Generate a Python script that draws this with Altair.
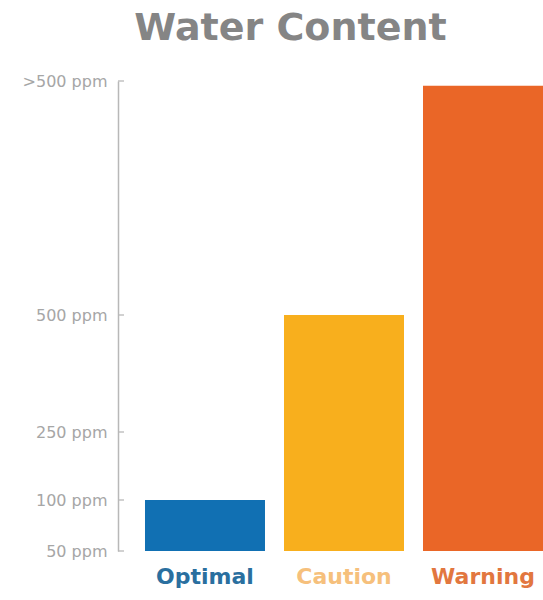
import altair as alt
import pandas as pd

# Categories and their water content (ppm); the top tick stands for ">500 ppm"
categories = ["Optimal", "Caution", "Warning"]
ppm_values = [100, 500, 990]
bar_colors = ["#1170b3", "#f8af1d", "#ea6627"]
label_colors = ["#2a6f9f", "#f6c07c", "#e2773f"]

tick_values = [50, 100, 250, 500, 1000]
tick_labels = ["50 ppm", "100 ppm", "250 ppm", "500 ppm", ">500 ppm"]

bars = pd.DataFrame({"category": categories, "ppm": ppm_values})
ticks = pd.DataFrame({"ppm": tick_values})

# Hand-spaced, non-linear water scale (piecewise)
y_scale = alt.Scale(domain=tick_values, range=[470, 419, 351, 234, 0], clamp=True)

label_expr = " : ".join(
    f"datum.value == {v} ? '{t}'" for v, t in zip(tick_values, tick_labels)
) + " : ''"
color_expr = " : ".join(
    f"datum.value == '{c}' ? '{col}'" for c, col in zip(categories, label_colors)
) + " : '#888'"

x_enc = alt.X(
    "category:N",
    sort=categories,
    scale=alt.Scale(paddingInner=0.1367, paddingOuter=0.0971, align=1),
    axis=alt.Axis(
        title=None,
        domain=False,
        ticks=False,
        labelAngle=0,
        labelFont="DejaVu Sans",
        labelFontWeight="bold",
        labelFontSize=22,
        labelPadding=15,
        labelColor={"expr": color_expr},
    ),
)

bar_layer = alt.Chart(bars).mark_bar().encode(
    x=x_enc,
    y=alt.Y(
        "ppm:Q",
        scale=y_scale,
        axis=alt.Axis(
            title=None,
            values=tick_values,
            labelExpr=label_expr,
            grid=False,
            ticks=False,
            domainColor="#b8b8b8",
            domainWidth=1.5,
            labelColor="#a6a6a6",
            labelFont="DejaVu Sans",
            labelFontSize=16,
            labelPadding=11,
        ),
    ),
    y2=alt.datum(50),
    color=alt.Color("category:N", scale=alt.Scale(domain=categories, range=bar_colors), legend=None),
)

# Short inward tick marks on the value axis
tick_layer = alt.Chart(ticks).mark_rule(color="#b8b8b8", strokeWidth=1.3).encode(
    y=alt.Y("ppm:Q", scale=y_scale),
    x=alt.value(0),
    x2=alt.value(6),
)

chart = (
    alt.layer(bar_layer, tick_layer)
    .properties(
        width=425,
        height=470,
        autosize=alt.AutoSizeParams(type="none"),
        padding={"left": 118, "top": 81, "right": 0, "bottom": 49},
        title=alt.TitleParams(
            "Water Content",
            font="DejaVu Sans",
            fontSize=38,
            fontWeight="bold",
            color="#858585",
            anchor="middle",
            frame="group",
            dx=-40,
            dy=36,
            baseline="alphabetic",
            offset=31,
        ),
    )
    .configure(background="white")
    .configure_view(strokeWidth=0, stroke=None)
)

chart.save("out.html", embed_options={"renderer": "svg", "actions": False})
